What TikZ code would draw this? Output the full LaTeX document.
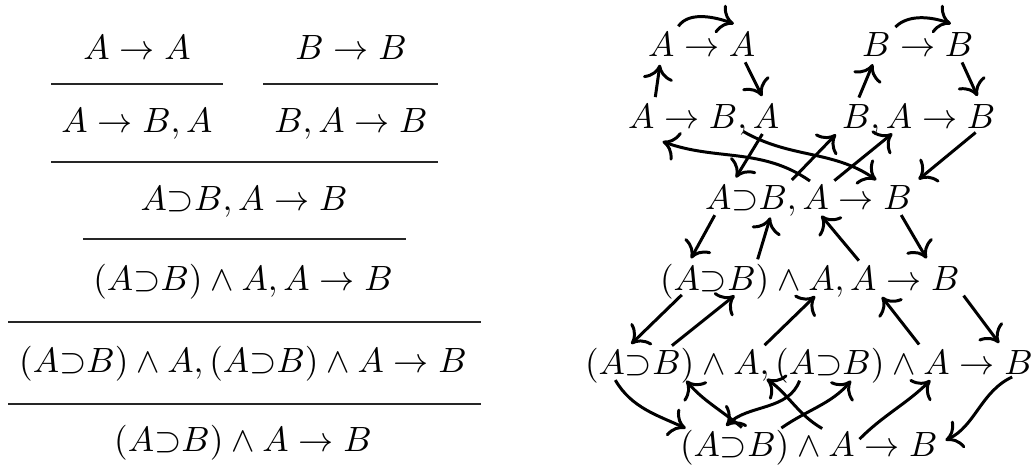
\documentclass[tikz,border=0pt]{standalone}
\usepackage{amsmath}
\usepackage{tikz}
\usetikzlibrary{positioning, arrows.meta}

\begin{document}
\begin{tikzpicture}[
  x=0.285pt, y=-0.285pt,
  seq/.style={inner sep=0pt, anchor=base},
  atom/.style={inner sep=0pt, outer sep=0pt, anchor=base west},
  rule/.style={line width=0.55pt, black!85},
  flow/.style={-{To[length=4.4pt, width=8.6pt]}, line width=0.85pt,
               shorten <=2pt, shorten >=2.5pt},
]
  \useasboundingbox (0,0) rectangle (1033,469);

  % Sequent proof
  \node[seq] (sAA) at (137,59) {$A\to A$};
  \node[seq] (sBB) at (351,59) {$B\to B$};
  \node[seq] (sABA) at (137,132) {$A\to B,A$};
  \node[seq] (sBAB) at (351,132) {$B,A\to B$};
  \node[seq] (sImp) at (244,210) {$A{\supset}B,A\to B$};
  \node[seq] (sAnd) at (243,290) {$(A{\supset}B)\wedge A,A\to B$};
  \node[seq] (sCtr) at (243,372) {$(A{\supset}B)\wedge A,(A{\supset}B)\wedge A\to B$};
  \node[seq] (sEnd) at (243,451) {$(A{\supset}B)\wedge A\to B$};

  \draw[rule] (51,84) -- (223,84);
  \draw[rule] (263,84) -- (438,84);
  \draw[rule] (51,162) -- (438,162);
  \draw[rule] (83,239) -- (406,239);
  \draw[rule] (8,322) -- (481,322);
  \draw[rule] (8,404) -- (481,404);

  % Flow graph: axioms
  \node[atom] (ta1) at (648,56) {$A$};
  \node[atom, base right=0pt of ta1] (ta1s) {${}\to{}$};
  \node[atom, base right=0pt of ta1s] (ta2) {$A$};
  \node[atom] (tb1) at (862,56) {$B$};
  \node[atom, base right=0pt of tb1] (tb1s) {${}\to{}$};
  \node[atom, base right=0pt of tb1s] (tb2) {$B$};

  % weakenings
  \node[atom] (la1) at (628,128) {$A$};
  \node[atom, base right=0pt of la1] (la1s) {${}\to{}$};
  \node[atom, base right=0pt of la1s] (lb1) {$B$};
  \node[atom, base right=0pt of lb1] (lb1s) {$,{}$};
  \node[atom, base right=0pt of lb1s] (la2) {$A$};
  \node[atom] (rb1) at (842,128) {$B$};
  \node[atom, base right=0pt of rb1] (rb1s) {$,{}$};
  \node[atom, base right=0pt of rb1s] (ra1) {$A$};
  \node[atom, base right=0pt of ra1] (ra1s) {${}\to{}$};
  \node[atom, base right=0pt of ra1s] (rb2) {$B$};

  % implication left
  \node[atom] (ia1) at (705,209) {$A$};
  \node[atom, base right=0pt of ia1] (ia1s) {$\supset$};
  \node[atom, base right=0pt of ia1s] (ib1) {$B$};
  \node[atom, base right=0pt of ib1] (ib1s) {$,{}$};
  \node[atom, base right=0pt of ib1s] (ia2) {$A$};
  \node[atom, base right=0pt of ia2] (ia2s) {${}\to{}$};
  \node[atom, base right=0pt of ia2s] (ib2) {$B$};

  % conjunction left
  \node[atom] (ca0) at (660,290) {$($};
  \node[atom, base right=0pt of ca0] (ca1) {$A$};
  \node[atom, base right=0pt of ca1] (ca1s) {$\supset$};
  \node[atom, base right=0pt of ca1s] (cb1) {$B$};
  \node[atom, base right=0pt of cb1] (cb1s) {$){}\wedge{}$};
  \node[atom, base right=0pt of cb1s] (ca2) {$A$};
  \node[atom, base right=0pt of ca2] (ca2s) {$,{}$};
  \node[atom, base right=0pt of ca2s] (ca3) {$A$};
  \node[atom, base right=0pt of ca3] (ca3s) {${}\to{}$};
  \node[atom, base right=0pt of ca3s] (cb2) {$B$};

  % conjunction left again
  \node[atom] (da0) at (585,374) {$($};
  \node[atom, base right=0pt of da0] (da1) {$A$};
  \node[atom, base right=0pt of da1] (da1s) {$\supset$};
  \node[atom, base right=0pt of da1s] (db1) {$B$};
  \node[atom, base right=0pt of db1] (db1s) {$){}\wedge{}$};
  \node[atom, base right=0pt of db1s] (da2) {$A$};
  \node[atom, base right=0pt of da2] (da2s) {$,{}($};
  \node[atom, base right=0pt of da2s] (da3) {$A$};
  \node[atom, base right=0pt of da3] (da3s) {$\supset$};
  \node[atom, base right=0pt of da3s] (db3) {$B$};
  \node[atom, base right=0pt of db3] (db3s) {$){}\wedge{}$};
  \node[atom, base right=0pt of db3s] (da4) {$A$};
  \node[atom, base right=0pt of da4] (da4s) {${}\to{}$};
  \node[atom, base right=0pt of da4s] (db4) {$B$};

  % contraction
  \node[atom] (ea0) at (680,456) {$($};
  \node[atom, base right=0pt of ea0] (ea1) {$A$};
  \node[atom, base right=0pt of ea1] (ea1s) {$\supset$};
  \node[atom, base right=0pt of ea1s] (eb1) {$B$};
  \node[atom, base right=0pt of eb1] (eb1s) {$){}\wedge{}$};
  \node[atom, base right=0pt of eb1s] (ea2) {$A$};
  \node[atom, base right=0pt of ea2] (ea2s) {${}\to{}$};
  \node[atom, base right=0pt of ea2s] (eb2) {$B$};

  % edges
  \draw[flow] (ta1.north east) to[out=55, in=160] ([yshift=1.5pt]ta2.north);
  \draw[flow] (ta2.south) -- (la2.north);
  \draw[flow] (la1.north east) -- (ta1.south);
  \draw[flow] (tb1.north east) to[out=45, in=160] ([yshift=1.5pt]tb2.north);
  \draw[flow] (tb2.south) -- (rb2.north);
  \draw[flow] (rb1.north) -- (tb1.south);

  \draw[flow] (ia2.north) to[out=145, in=-20] ([yshift=-3pt]la1.south east);
  \draw[flow] (lb1.south east) to[out=-30, in=145] (ib2.north west);
  \draw[flow] (la2.south) -- (ia1.north east);
  \draw[flow] (ib1.north east) -- (rb1.south west);
  \draw[flow] (ia2.north east) -- (ra1.south);
  \draw[flow] (rb2.south) -- (ib2.north east);

  \draw[flow] (ia1.south) -- (ca1.north);
  \draw[flow] (cb1.north east) -- (ib1.south);
  \draw[flow] (ca3.north) -- (ia2.south);
  \draw[flow] (ib2.south) -- (cb2.north west);

  \draw[flow] (ca1.south) -- (da1.north east);
  \draw[flow] (db1.north) -- (cb1.south);
  \draw[flow] (da2.north east) -- (ca2.south);
  \draw[flow] (da4.north west) -- (ca3.south east);
  \draw[flow] (cb2.south east) -- (db4.north west);

  \draw[flow] (da1.south) to[out=-60, in=155] (ea1.north west);
  \draw[flow] (da3.south) to[out=-110, in=45] (ea1.north east);
  \draw[flow] (eb1.north west) to[out=140, in=-50] (db1.south east);
  \draw[flow] (eb1.north east) to[out=35, in=-130] (db3.south);
  \draw[flow] (ea2.north west) to[out=150, in=-35] (da2.south east);
  \draw[flow] (ea2.east) to[out=45, in=-135] (da4.south);
  \draw[flow] (db4.south) to[out=205, in=25] (eb2.east);
\end{tikzpicture}
\end{document}
